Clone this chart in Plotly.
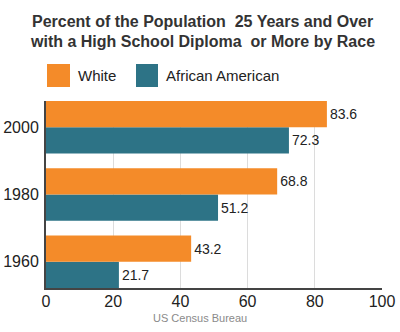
import plotly.graph_objects as go

# Share of adults 25+ with at least a high school diploma
years = ["1960", "1980", "2000"]
white = [43.2, 68.8, 83.6]
african_american = [21.7, 51.2, 72.3]
x_ticks = [0, 20, 40, 60, 80, 100]

title_lines = [
    "Percent of the Population  25 Years and Over",
    "with a High School Diploma  or More by Race",
]

ORANGE = "#F48B29"
TEAL = "#2D7386"
FONT = "Liberation Sans, Arial, sans-serif"

fig = go.Figure()

# In horizontal groups the first trace sits at the bottom, so the teal series goes first
fig.add_trace(go.Bar(
    y=years, x=african_american, orientation="h", name="African American",
    marker=dict(color=TEAL, line=dict(width=0)),
    text=[f"{v:.1f}" for v in african_american], textposition="outside",
    textfont=dict(size=14, color="#222222", family=FONT), cliponaxis=False,
))
fig.add_trace(go.Bar(
    y=years, x=white, orientation="h", name="White",
    marker=dict(color=ORANGE, line=dict(width=0)),
    text=[f"{v:.1f}" for v in white], textposition="outside",
    textfont=dict(size=14, color="#222222", family=FONT), cliponaxis=False,
))

# Plot area geometry in pixels, used to place the legend swatches and headings
L, T, W, H = 46, 101, 336, 187


def px(x):
    return (x - L) / W


def py(y):
    return (T + H - y) / H


shapes = [
    dict(type="rect", xref="paper", yref="paper", x0=px(47), x1=px(70), y0=py(87), y1=py(64),
         fillcolor=ORANGE, line=dict(width=0)),
    dict(type="rect", xref="paper", yref="paper", x0=px(136), x1=px(158), y0=py(87), y1=py(64),
         fillcolor=TEAL, line=dict(width=0)),
]

annotations = [
    dict(text=f"<b>{title_lines[0]}</b>", xref="paper", yref="paper", x=px(202), y=py(21),
         xanchor="center", yanchor="middle", showarrow=False,
         font=dict(size=16, color="#333333", family=FONT)),
    dict(text=f"<b>{title_lines[1]}</b>", xref="paper", yref="paper", x=px(202), y=py(41),
         xanchor="center", yanchor="middle", showarrow=False,
         font=dict(size=16, color="#333333", family=FONT)),
    dict(text="White", xref="paper", yref="paper", x=px(76), y=py(75.5), xanchor="left",
         yanchor="middle", showarrow=False, font=dict(size=15, color="#222222", family=FONT)),
    dict(text="African American", xref="paper", yref="paper", x=px(164), y=py(75.5), xanchor="left",
         yanchor="middle", showarrow=False, font=dict(size=15, color="#222222", family=FONT)),
    dict(text="US Census Bureau", xref="paper", yref="paper", x=px(200), y=py(318), xanchor="center",
         yanchor="middle", showarrow=False, font=dict(size=11, color="#8a8a8a", family=FONT)),
]

fig.update_layout(
    width=400, height=332,
    margin=dict(l=L, r=400 - L - W, t=T, b=332 - T - H, autoexpand=False),
    paper_bgcolor="white", plot_bgcolor="white",
    barmode="group", bargap=0.22, bargroupgap=0,
    showlegend=False,
    font=dict(family=FONT, color="#222222"),
    shapes=shapes,
    annotations=annotations,
    xaxis=dict(
        range=[0, 100], tickvals=x_ticks, showgrid=True, gridcolor="#dcdcdc", gridwidth=1,
        zeroline=False, showline=True, linecolor="#444444", linewidth=2,
        tickfont=dict(size=16, color="#222222"), ticks="", fixedrange=True, automargin=False,
        ticklabelstandoff=-2,
    ),
    yaxis=dict(
        type="category", categoryorder="array", categoryarray=years,
        range=[-0.39, 2.39], showgrid=False, zeroline=False,
        showline=True, linecolor="#444444", linewidth=2, automargin=False,
        tickfont=dict(size=16, color="#222222"), ticks="", ticklabelstandoff=2,
    ),
)

fig.write_html("out.html")
